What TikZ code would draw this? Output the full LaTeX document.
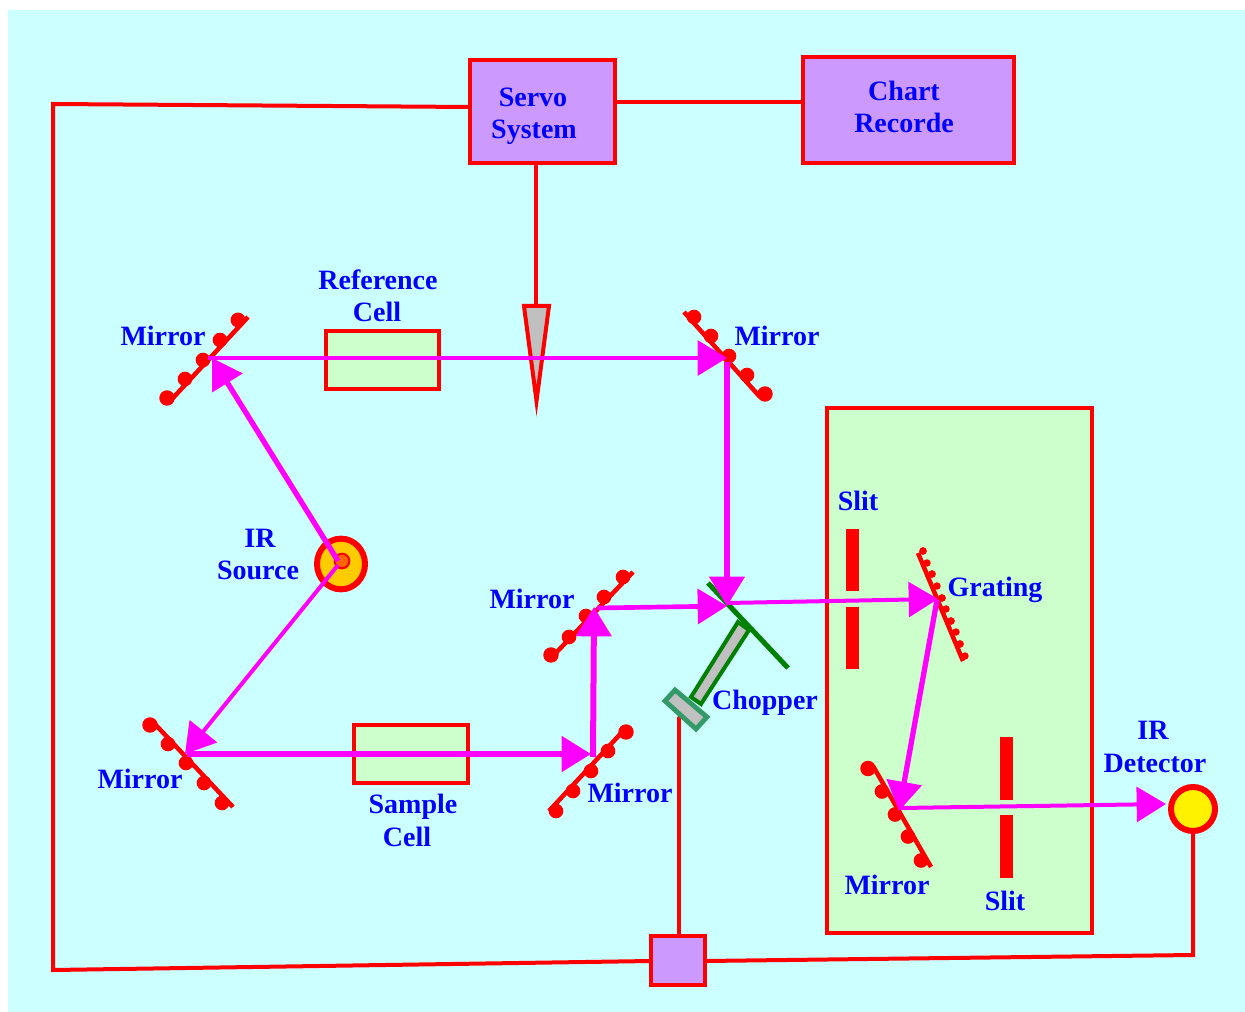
\documentclass[tikz,border=0pt]{standalone}
\usepackage{fontspec}
\setmainfont{Liberation Serif}
\usetikzlibrary{arrows.meta,shapes.geometric}
\definecolor{bgcyan}{HTML}{CCFFFF}
\definecolor{palegreen}{HTML}{CCFFCC}
\definecolor{boxpurple}{HTML}{CC99FF}
\definecolor{srcgold}{HTML}{FFCC00}
\definecolor{srcorange}{HTML}{FF6600}
\definecolor{seagreen}{HTML}{339966}
\definecolor{midgray}{HTML}{C0C0C0}
\definecolor{chopgreen}{HTML}{008000}
\definecolor{puremagenta}{RGB}{255,0,255}
\definecolor{purered}{RGB}{255,0,0}
\definecolor{pureblue}{RGB}{0,0,255}
\tikzset{
  rbox/.style={draw=purered,line width=3pt,inner sep=0pt,outer sep=0pt,rectangle},
  purplebox/.style={rbox,fill=boxpurple},
  cellbox/.style={rbox,fill=palegreen},
  wire/.style={draw=purered,line width=3pt,line cap=round,line join=miter},
  mirrorline/.style={draw=purered,line width=3.4pt},
  slitbar/.style={fill=purered},
  beam/.style={draw=puremagenta,fill=puremagenta,line width=#1,
    -{Triangle[length=22pt,width=26pt]}},
  beam/.default=3pt,
  lab/.style={text=pureblue,font=\fontsize{21pt}{24pt}\selectfont\bfseries,inner sep=0pt,text height=13.5pt,text depth=0pt}
}
\newcommand{\mirrorbumps}[2]{%
  \begin{scope}[shift={#1}]
  \foreach \p/\r in {#2}{\fill[purered] \p circle[radius=\r pt];}%
  \end{scope}%
}
\begin{document}
\begin{tikzpicture}[x=0.75pt,y=-0.75pt]
\useasboundingbox (0,0) rectangle (1245,1012);
\fill[white] (0,0) rectangle (1245,1012);
\fill[bgcyan] (8,10) rectangle (1245,1012);

% nodes: boxes
\node[rbox,fill=palegreen,minimum width=199pt,minimum height=394pt] (mono) at (959.5,670.5) {};
\node[purplebox,minimum width=108.75pt,minimum height=77.25pt] (servo) at (542.5,111.5) {};
\node[purplebox,minimum width=158.25pt,minimum height=79.5pt] (chart) at (908.5,110) {};
\node[cellbox,minimum width=84.75pt,minimum height=43.5pt] (refcell) at (382.5,360) {};
\node[cellbox,minimum width=85.5pt,minimum height=43.5pt] (samcell) at (411,754) {};
\node[purplebox,minimum width=40.5pt,minimum height=36.75pt] (amp) at (678,960.5) {};

% free ends of connectors
\coordinate (wA) at (53,104);
\coordinate (wB) at (53,970);
\coordinate (wC) at (1193,955);
\coordinate (sL) at (470,107);
\coordinate (sR) at (615,102);
\coordinate (cL) at (803,102);
\coordinate (sB) at (536,163);
\coordinate (wedgeTop) at (536,306);
\coordinate (aL) at (651,961);
\coordinate (aR) at (705,961);
\coordinate (aT) at (679,936);
\coordinate (chopB) at (679,718);
\coordinate (detB) at (1193,834);

% wires
\draw[wire] (sL) -- (wA) -- (wB) -- (aL);
\draw[wire] (aR) -- (wC) -- (detB);
\draw[wire] (sR) -- (cL);
\draw[wire] (sB) -- (wedgeTop);
\draw[wire] (chopB) -- (aT);

% wedge
\draw[draw=purered,fill=midgray,line width=3pt,line join=miter] (524,306) -- (549,306) -- (536.5,401) -- cycle;

% slits
\fill[slitbar] (846,529) rectangle (859,591);
\fill[slitbar] (846,607) rectangle (859,669);
\fill[slitbar] (1000,737) rectangle (1013,800);
\fill[slitbar] (1000,815) rectangle (1013,878);

% mirrors
\draw[mirrorline] (172,399) -- (248,317);
\mirrorbumps{(1,1)}{(166,397)/5.8,(184,378)/5.5,(202,359)/5.5,(219,339)/5.5,(237,319)/5.6}
\draw[mirrorline] (684,312) -- (760,397);
\mirrorbumps{(-1,1)}{(695,316)/5.5,(712,335)/5.5,(730,355)/5.5,(748,374)/5.5,(766,393)/5.8}
\draw[mirrorline] (153,722) -- (233,807);
\mirrorbumps{(1,-1)}{(149,726)/5.8,(167,745)/5.5,(185,764)/5.5,(203,784)/5.5,(221,804)/5.5}
\draw[mirrorline] (553,656) -- (633,572);
\mirrorbumps{(1,1)}{(550,654)/5.8,(568,636)/5.5,(585,615)/5.5,(603,596)/5.5,(622,576)/5.5}
\draw[mirrorline] (549,811) -- (624,730);
\mirrorbumps{(-1,-1)}{(557,812)/5.5,(574,792)/5.5,(592,772)/5.5,(609,752)/5.5,(627,733)/5.8}
\draw[mirrorline] (873,766) -- (931,867);
\mirrorbumps{(1,-0.5)}{(867,769)/5.8,(881,792)/5.5,(894,815)/5.5,(907,837)/5.5,(920,861)/5.5}
% grating
\draw[mirrorline] (918,553) -- (963,661);
\mirrorbumps{(0,0)}{(923,551)/2.9,(927,563)/2.8,(932,574)/2.9,(937,586)/2.8,(942,598)/2.9,(946,609)/2.8,(951,621)/2.9,(956,632)/2.8,(960,644)/2.9,(965,656)/2.8}

% chopper
\draw[draw=chopgreen,line width=3.75pt] (708,583) -- (788,668);
\draw[draw=chopgreen,fill=midgray,line width=3pt,line join=miter] (738,622) -- (749,630) -- (701,704) -- (691,697) -- cycle;
\draw[draw=seagreen,fill=midgray,line width=3.6pt,line join=miter] (675,690) -- (707,717) -- (696,729) -- (665,701) -- cycle;

% sources
\node[draw=purered,fill=srcgold,line width=4.5pt,ellipse,minimum width=36pt,minimum height=38pt,inner sep=0pt,outer sep=0pt] (source) at (341,564) {};
\node[draw=purered,fill=srcorange,line width=1.5pt,circle,minimum size=11pt,inner sep=0pt] (filament) at (342,561) {};
\node[draw=purered,fill=yellow,line width=4.5pt,circle,minimum size=33pt,inner sep=0pt,outer sep=0pt] (detector) at (1193,809) {};

% beam points
\coordinate (bS) at (338,561);
\coordinate (bS2) at (338,565);
\coordinate (b1) at (212,358);
\coordinate (b1s) at (208,358);
\coordinate (b2) at (727,358);
\coordinate (b2s) at (727,362);
\coordinate (b3) at (185,754);
\coordinate (b3s) at (187,754);
\coordinate (b4) at (591,754);
\coordinate (b4s) at (593,757);
\coordinate (b5) at (594,607);
\coordinate (b5s) at (597,608);
\coordinate (ch) at (727,606);
\coordinate (chs) at (727,603);
\coordinate (gr) at (938,599);
\coordinate (grs) at (937,600);
\coordinate (b6) at (899,811);
\coordinate (b6s) at (900,808);
\coordinate (det) at (1166,804);

% beams
\draw[beam=4pt] (bS) -- (b1);
\draw[beam=3pt] (b1s) -- (b2);
\draw[beam=4pt] (b2s) -- (ch);
\draw[beam=3pt] (bS2) -- (b3);
\draw[beam=4.5pt] (b3s) -- (b4);
\draw[beam=4.5pt] (b4s) -- (b5);
\draw[beam=3.5pt] (b5s) -- (ch);
\draw[beam=3pt] (chs) -- (gr);
\draw[beam=4pt] (grs) -- (b6);
\draw[beam=3pt] (b6s) -- (det);

% labels
\node[lab] (l1) at (163,336) {Mirror};
\node[lab] (l2) at (378,281) {Reference};
\node[lab] (l3) at (377,313) {Cell};
\node[lab] (l4) at (777,337) {Mirror};
\node[lab] (l5) at (533,98) {Servo};
\node[lab] (l6) at (534,130) {System};
\node[lab] (l7) at (904,92) {Chart};
\node[lab] (l8) at (904,124) {Recorde};
\node[lab] (l9) at (260,538) {IR};
\node[lab] (l10) at (258,570) {Source};
\node[lab] (l11) at (532,599) {Mirror};
\node[lab] (l12) at (858,501) {Slit};
\node[lab] (l13) at (995,587) {Grating};
\node[lab] (l14) at (765,700) {Chopper};
\node[lab] (l15) at (630,793) {Mirror};
\node[lab] (l16) at (140,779) {Mirror};
\node[lab] (l17) at (413,804) {Sample};
\node[lab] (l18) at (407,837) {Cell};
\node[lab] (l19) at (1153,730) {IR};
\node[lab] (l20) at (1155,763) {Detector};
\node[lab] (l21) at (887,885) {Mirror};
\node[lab] (l22) at (1005,901) {Slit};
\end{tikzpicture}
\end{document}
